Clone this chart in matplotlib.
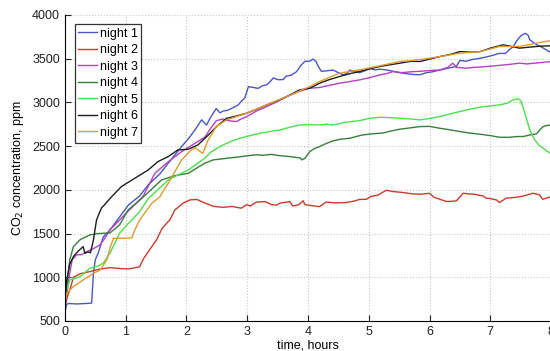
import numpy as np
import matplotlib
matplotlib.use("Agg")
import matplotlib.pyplot as plt

plt.rcParams["font.family"] = ["Liberation Sans", "DejaVu Sans"]

# night 1
t1 = [0, 0.03, 0.06, 0.2, 0.35, 0.44, 0.47, 0.5, 0.55, 0.63, 0.74, 0.9, 1.05, 1.23,
      1.37, 1.56, 1.7, 1.92, 2.05, 2.14, 2.25, 2.33, 2.39, 2.49, 2.55, 2.6, 2.68, 2.77,
      2.85, 2.9, 2.96, 3.02, 3.1, 3.18, 3.25, 3.32, 3.38, 3.43, 3.5, 3.59, 3.64, 3.72,
      3.81, 3.88, 3.95, 4.03, 4.08, 4.13, 4.17, 4.22, 4.3, 4.41, 4.5, 4.58, 4.64, 4.69,
      4.77, 4.85, 4.93, 5.02, 5.1, 5.18, 5.3, 5.4, 5.5, 5.6, 5.72, 5.84, 5.95, 6.05,
      6.17, 6.3, 6.44, 6.5, 6.6, 6.7, 6.8, 6.94, 7.05, 7.15, 7.25, 7.31, 7.38, 7.43,
      7.5, 7.57, 7.62, 7.65, 7.7, 7.76, 7.85, 7.92, 8.0]
n1 = [600, 690, 700, 695, 700, 705, 1050, 1200, 1280, 1460, 1540, 1690, 1830, 1930,
      2056, 2180, 2304, 2494, 2600, 2685, 2800, 2740, 2820, 2930, 2880, 2900, 2910, 2940,
      2970, 3010, 3050, 3180, 3170, 3160, 3190, 3200, 3240, 3280, 3260, 3260, 3300, 3310,
      3350, 3420, 3470, 3470, 3495, 3470, 3410, 3355, 3360, 3370, 3340, 3315, 3330, 3370,
      3350, 3340, 3360, 3390, 3370, 3380, 3370, 3355, 3340, 3330, 3320, 3315, 3340, 3350,
      3370, 3390, 3410, 3480, 3470, 3490, 3500, 3520, 3540, 3560, 3560, 3600, 3640, 3700,
      3760, 3790, 3770, 3715, 3690, 3660, 3630, 3600, 3570]

# night 2
t2 = [0, 0.05, 0.1, 0.14, 0.25, 0.41, 0.55, 0.74, 0.9, 1.05, 1.23, 1.27, 1.3, 1.4,
      1.51, 1.6, 1.73, 1.81, 1.95, 2.06, 2.17, 2.3, 2.45, 2.6, 2.75, 2.9, 2.99, 3.05,
      3.15, 3.3, 3.4, 3.48, 3.55, 3.62, 3.7, 3.75, 3.85, 3.92, 3.95, 4.05, 4.19, 4.3,
      4.45, 4.63, 4.75, 4.85, 4.96, 5.04, 5.15, 5.29, 5.4, 5.55, 5.73, 5.85, 6.0, 6.07,
      6.18, 6.28, 6.44, 6.5, 6.55, 6.72, 6.8, 6.88, 6.93, 7.0, 7.1, 7.15, 7.26, 7.43,
      7.55, 7.7, 7.81, 7.86, 8.0]
n2 = [660, 800, 900, 1000, 1040, 1065, 1090, 1110, 1100, 1095, 1120, 1180, 1220, 1320,
      1430, 1560, 1660, 1770, 1850, 1885, 1890, 1850, 1810, 1800, 1810, 1790, 1830, 1815,
      1860, 1865, 1830, 1825, 1850, 1855, 1865, 1815, 1830, 1875, 1830, 1820, 1808, 1860,
      1850, 1855, 1870, 1890, 1892, 1925, 1940, 1995, 1980, 1970, 1953, 1950, 1960, 1915,
      1890, 1866, 1873, 1920, 1960, 1950, 1940, 1930, 1905, 1900, 1884, 1855, 1904, 1915,
      1930, 1961, 1942, 1892, 1923]

# night 3
t3 = [0, 0.04, 0.08, 0.12, 0.19, 0.28, 0.36, 0.45, 0.58, 0.66, 0.74, 0.88, 1.01, 1.15,
      1.29, 1.48, 1.7, 1.92, 2.14, 2.3, 2.38, 2.49, 2.6, 2.7, 2.82, 2.9, 2.99, 3.15,
      3.32, 3.5, 3.65, 3.85, 4.03, 4.19, 4.35, 4.52, 4.7, 4.85, 5.0, 5.18, 5.3, 5.4,
      5.55, 5.7, 5.84, 6.0, 6.17, 6.3, 6.38, 6.45, 6.6, 6.75, 6.94, 7.1, 7.26, 7.48,
      7.6, 7.76, 7.9, 8.0]
n3 = [650, 850, 1050, 1200, 1255, 1260, 1293, 1320, 1370, 1450, 1541, 1640, 1735, 1830,
      1930, 2189, 2320, 2437, 2532, 2600, 2684, 2790, 2810, 2790, 2780, 2810, 2837, 2900,
      2952, 3010, 3066, 3124, 3162, 3170, 3195, 3219, 3240, 3257, 3280, 3314, 3330, 3353,
      3340, 3350, 3355, 3364, 3370, 3400, 3448, 3400, 3391, 3400, 3410, 3420, 3430, 3448,
      3440, 3450, 3460, 3467]

# night 4
t4 = [0, 0.04, 0.08, 0.14, 0.25, 0.41, 0.55, 0.74, 0.9, 1.04, 1.23, 1.4, 1.59, 1.8,
      2.03, 2.3, 2.44, 2.6, 2.71, 2.85, 2.99, 3.15, 3.26, 3.4, 3.54, 3.7, 3.87, 3.9,
      3.95, 4.03, 4.1, 4.19, 4.3, 4.41, 4.55, 4.69, 4.85, 4.91, 5.05, 5.24, 5.35, 5.51,
      5.7, 5.84, 6.0, 6.17, 6.3, 6.5, 6.65, 6.83, 7.0, 7.15, 7.3, 7.43, 7.55, 7.65, 7.76,
      7.82, 7.87, 7.93, 8.0]
n4 = [700, 950, 1200, 1350, 1430, 1484, 1500, 1507, 1598, 1770, 1880, 1990, 2113, 2160,
      2189, 2304, 2342, 2355, 2365, 2375, 2388, 2400, 2395, 2405, 2390, 2380, 2365, 2342,
      2360, 2437, 2470, 2494, 2530, 2560, 2580, 2590, 2620, 2628, 2640, 2650, 2670, 2693,
      2710, 2723, 2725, 2704, 2690, 2666, 2650, 2636, 2620, 2601, 2600, 2609, 2610, 2628,
      2640, 2690, 2723, 2735, 2742]

# night 5
t5 = [0, 0.04, 0.08, 0.25, 0.41, 0.55, 0.63, 0.74, 0.9, 1.05, 1.23, 1.37, 1.56, 1.7,
      1.89, 2.03, 2.3, 2.4, 2.55, 2.7, 2.88, 3.05, 3.21, 3.4, 3.54, 3.7, 3.87, 4.0,
      4.19, 4.3, 4.41, 4.6, 4.85, 5.0, 5.18, 5.35, 5.51, 5.7, 5.84, 6.0, 6.17, 6.35,
      6.5, 6.65, 6.83, 7.0, 7.15, 7.28, 7.37, 7.46, 7.5, 7.54, 7.6, 7.65, 7.73, 7.8,
      7.87, 7.93, 8.0]
n5 = [700, 880, 969, 1007, 1103, 1130, 1160, 1274, 1503, 1620, 1751, 1900, 2020, 2113,
      2180, 2227, 2361, 2430, 2494, 2545, 2590, 2620, 2647, 2670, 2685, 2715, 2742, 2745,
      2742, 2750, 2740, 2770, 2792, 2815, 2830, 2825, 2819, 2810, 2800, 2815, 2837, 2870,
      2895, 2920, 2945, 2960, 2971, 2990, 3028, 3040, 3020, 2940, 2800, 2685, 2571, 2510,
      2476, 2440, 2418]

# night 6
t6 = [0, 0.03, 0.08, 0.14, 0.22, 0.3, 0.33, 0.38, 0.42, 0.47, 0.52, 0.6, 0.77, 0.93,
      1.15, 1.37, 1.53, 1.7, 1.86, 2.03, 2.19, 2.35, 2.49, 2.66, 2.8, 2.99, 3.15, 3.32,
      3.5, 3.65, 3.85, 4.03, 4.19, 4.35, 4.52, 4.7, 4.85, 5.0, 5.18, 5.35, 5.51, 5.7,
      5.84, 6.0, 6.17, 6.35, 6.5, 6.65, 6.83, 7.0, 7.21, 7.35, 7.48, 7.62, 7.76, 7.9, 8.0]
n6 = [620, 969, 1150, 1236, 1300, 1350, 1274, 1290, 1280, 1427, 1655, 1789, 1922, 2037,
      2132, 2227, 2322, 2380, 2456, 2464, 2514, 2620, 2720, 2818, 2840, 2876, 2920, 2971,
      3020, 3066, 3140, 3162, 3219, 3260, 3296, 3330, 3353, 3380, 3410, 3430, 3448, 3470,
      3467, 3494, 3524, 3550, 3581, 3575, 3580, 3620, 3658, 3640, 3620, 3630, 3639, 3645,
      3646]

# night 7
t7 = [0, 0.03, 0.08, 0.14, 0.3, 0.47, 0.58, 0.69, 0.75, 0.8, 0.95, 1.1, 1.15, 1.23,
      1.43, 1.56, 1.7, 1.92, 2.08, 2.15, 2.22, 2.27, 2.35, 2.49, 2.66, 2.99, 3.32, 3.65,
      4.03, 4.19, 4.52, 4.85, 5.18, 5.51, 5.73, 6.0, 6.17, 6.5, 6.83, 7.15, 7.48, 7.76,
      8.0]
n7 = [700, 820, 855, 893, 969, 1045, 1083, 1198, 1350, 1446, 1446, 1450, 1541, 1655,
      1846, 1920, 2075, 2342, 2456, 2480, 2440, 2418, 2560, 2723, 2800, 2876, 2971, 3066,
      3181, 3238, 3334, 3372, 3418, 3467, 3480, 3505, 3524, 3562, 3580, 3639, 3640, 3677,
      3707]

series = [(t1, n1, "night 1", "#4a56c8"),
          (t2, n2, "night 2", "#cc3a2c"),
          (t3, n3, "night 3", "#b53fc6"),
          (t4, n4, "night 4", "#37803a"),
          (t5, n5, "night 5", "#4ce04c"),
          (t6, n6, "night 6", "#1e1e1e"),
          (t7, n7, "night 7", "#e09a2e")]

fig = plt.figure(figsize=(5.5, 3.51), dpi=100)
ax = fig.add_axes([0.118, 0.0855, 0.884, 0.872])

for t, n, label, color in series:
    ax.plot(t, n, color=color, lw=1.0, label=label)

ax.set_xlim(0, 8)
ax.set_ylim(500, 4000)
ax.set_xticks(range(0, 9))
ax.set_yticks(range(500, 4001, 500))
ax.grid(True, color="#c8c8c8", linestyle=":", linewidth=0.8)
ax.spines["top"].set_visible(False)
ax.spines["right"].set_visible(False)
ax.tick_params(direction="in", length=4, labelsize=9, colors="#222222")
ax.set_xlabel("time, hours", fontsize=9, labelpad=1)
ax.set_ylabel("CO$_2$ concentration, ppm", fontsize=9, labelpad=4)

leg = ax.legend(loc="upper left", bbox_to_anchor=(0.02, 0.97), borderaxespad=0,
                fontsize=9, handlelength=1.5, handletextpad=0.2, labelspacing=0.36,
                borderpad=0.3, fancybox=False, framealpha=1)
leg.get_frame().set_edgecolor("#333333")
leg.get_frame().set_linewidth(0.9)

fig.savefig("out.png", dpi=100)
